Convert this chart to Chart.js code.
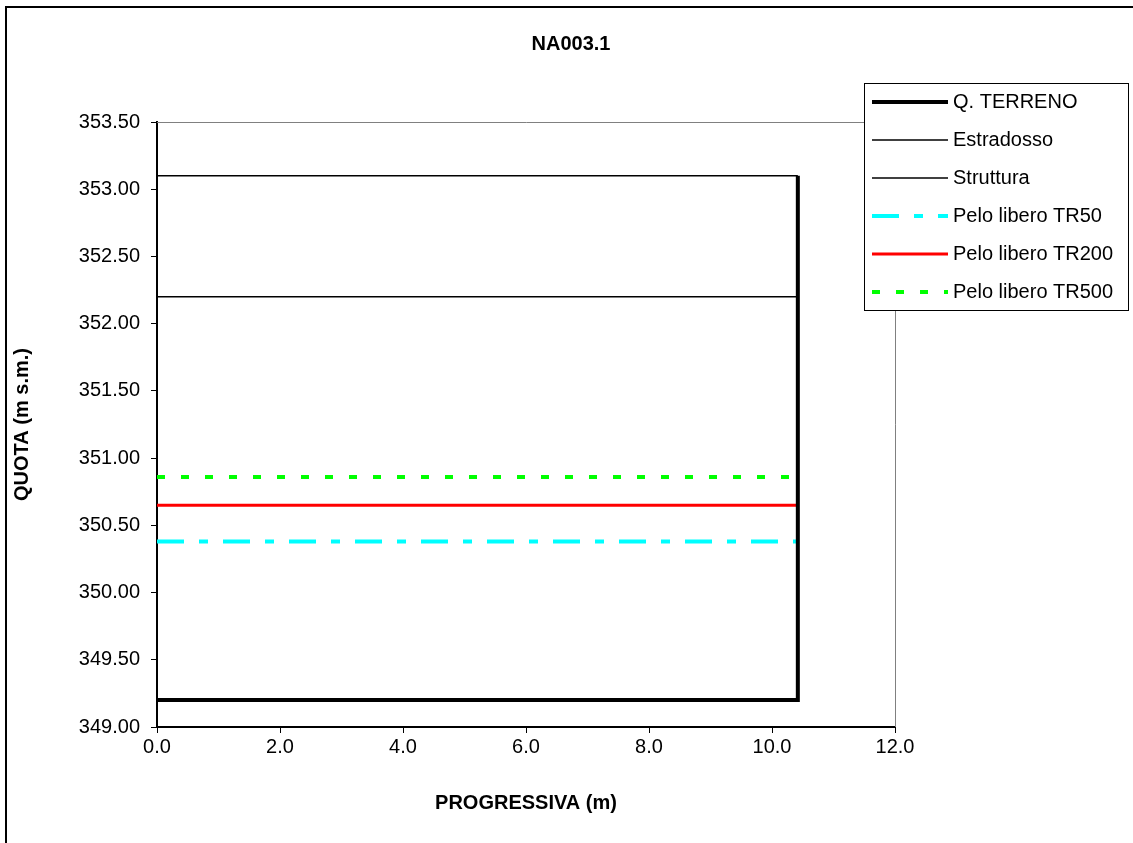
<!DOCTYPE html>
<html>
<head>
<meta charset="utf-8">
<title>NA003.1</title>
<script src="https://cdn.jsdelivr.net/npm/chart.js@4.4.1/dist/chart.umd.min.js"></script>
<style>
  html, body { margin: 0; padding: 0; background: #fff; }
  canvas { display: block; }
</style>
</head>
<body>
<canvas id="chart" width="1133" height="843"></canvas>
<script>
// values
const seriesNames = ['Q. TERRENO', 'Estradosso', 'Struttura', 'Pelo libero TR50', 'Pelo libero TR200', 'Pelo libero TR500'];
const terrenoX = [0, 10.42, 10.42];
const terrenoY = [349.2, 349.2, 353.1];
const spanX = [0, 10.42];
const estradossoY = [353.1, 353.1];
const strutturaY = [352.2, 352.2];
const tr50Y = [350.38, 350.38];
const tr200Y = [350.65, 350.65];
const tr500Y = [350.86, 350.86];
const xTicks = [0, 2, 4, 6, 8, 10, 12];
const yTicks = [349, 349.5, 350, 350.5, 351, 351.5, 352, 352.5, 353, 353.5];

const FONT = 'Liberation Sans, Arial, sans-serif';

function toPoints(xs, ys) {
  return xs.map((x, i) => ({ x: x, y: ys[i] }));
}

const styles = [
  { color: '#000000', width: 4, dash: [] },
  { color: '#000000', width: 1.4, dash: [] },
  { color: '#000000', width: 1.4, dash: [] },
  { color: '#00ffff', width: 4, dash: [27, 15, 9, 15] },
  { color: '#ff0000', width: 3, dash: [] },
  { color: '#00ff00', width: 4, dash: [8, 16] }
];

const allData = [
  toPoints(terrenoX, terrenoY),
  toPoints(spanX, estradossoY),
  toPoints(spanX, strutturaY),
  toPoints(spanX, tr50Y),
  toPoints(spanX, tr200Y),
  toPoints(spanX, tr500Y)
];

const datasets = seriesNames.map((name, i) => ({
  label: name,
  data: allData[i],
  showLine: true,
  pointRadius: 0,
  borderColor: styles[i].color,
  borderWidth: styles[i].width,
  borderDash: styles[i].dash,
  borderCapStyle: 'butt',
  borderJoinStyle: 'miter',
  order: i === 0 ? 0 : 1
}));

// frame, grey plot border, title and legend box
const decorations = {
  id: 'decorations',
  beforeDatasetsDraw(chart) {
    const ctx = chart.ctx;
    const a = chart.chartArea;
    ctx.save();
    ctx.strokeStyle = '#808080';
    ctx.lineWidth = 1;
    ctx.beginPath();
    ctx.moveTo(a.left, a.top + 0.5);
    ctx.lineTo(a.right + 0.5, a.top + 0.5);
    ctx.lineTo(a.right + 0.5, a.bottom);
    ctx.stroke();
    ctx.restore();
  },
  afterDraw(chart) {
    const ctx = chart.ctx;
    ctx.save();
    // outer frame
    ctx.strokeStyle = '#000';
    ctx.lineWidth = 2;
    ctx.strokeRect(6, 7, 1200, 900);

    // title
    ctx.fillStyle = '#000';
    ctx.font = 'bold 20px ' + FONT;
    ctx.textAlign = 'center';
    ctx.textBaseline = 'middle';
    ctx.fillText('NA003.1', 571, 44);

    // legend
    const bx = 864, by = 83, bw = 264, bh = 227;
    ctx.fillStyle = '#fff';
    ctx.fillRect(bx, by, bw, bh);
    ctx.strokeStyle = '#000';
    ctx.lineWidth = 1;
    ctx.strokeRect(bx + 0.5, by + 0.5, bw, bh);
    ctx.font = '20px ' + FONT;
    ctx.textAlign = 'left';
    ctx.textBaseline = 'middle';
    seriesNames.forEach((name, i) => {
      const y = 102 + i * 38;
      const s = styles[i];
      ctx.beginPath();
      ctx.strokeStyle = s.color;
      ctx.lineWidth = s.width;
      ctx.setLineDash(s.dash);
      ctx.moveTo(872, y);
      ctx.lineTo(948, y);
      ctx.stroke();
      ctx.setLineDash([]);
      ctx.fillStyle = '#000';
      ctx.fillText(name, 953, y);
    });
    ctx.restore();
  }
};

new Chart(document.getElementById('chart'), {
  type: 'scatter',
  data: { datasets: datasets },
  options: {
    responsive: false,
    animation: false,
    layout: { padding: { left: 6, top: 122, right: 238, bottom: 20 } },
    plugins: {
      legend: { display: false },
      title: { display: false },
      tooltip: { enabled: false }
    },
    scales: {
      x: {
        type: 'linear',
        min: 0,
        max: 12,
        afterFit(axis) { axis.height = 843 - 20 - 727; },
        afterBuildTicks(axis) { axis.ticks = xTicks.map(v => ({ value: v })); },
        ticks: {
          color: '#000',
          font: { family: FONT, size: 20 },
          padding: 2,
          maxRotation: 0,
          callback: v => Number(v).toFixed(1)
        },
        grid: { drawOnChartArea: false, drawTicks: true, tickLength: 6, color: '#000', lineWidth: 1 },
        border: { display: true, color: '#000', width: 2 },
        title: {
          display: true,
          text: 'PROGRESSIVA (m)',
          color: '#000',
          font: { family: FONT, size: 20, weight: 'bold' },
          padding: { top: 0, bottom: 8 }
        }
      },
      y: {
        type: 'linear',
        min: 349,
        max: 353.5,
        afterFit(axis) { axis.width = 157 - 6; },
        afterBuildTicks(axis) { axis.ticks = yTicks.map(v => ({ value: v })); },
        ticks: {
          color: '#000',
          font: { family: FONT, size: 20 },
          padding: 11,
          callback: v => Number(v).toFixed(2)
        },
        grid: { drawOnChartArea: false, drawTicks: true, tickLength: 6, color: '#000', lineWidth: 1 },
        border: { display: true, color: '#000', width: 2 },
        title: {
          display: true,
          text: 'QUOTA (m s.m.)',
          color: '#000',
          font: { family: FONT, size: 20, weight: 'bold' },
          padding: { top: 4, bottom: 0 }
        }
      }
    }
  },
  plugins: [decorations]
});
</script>
</body>
</html>
